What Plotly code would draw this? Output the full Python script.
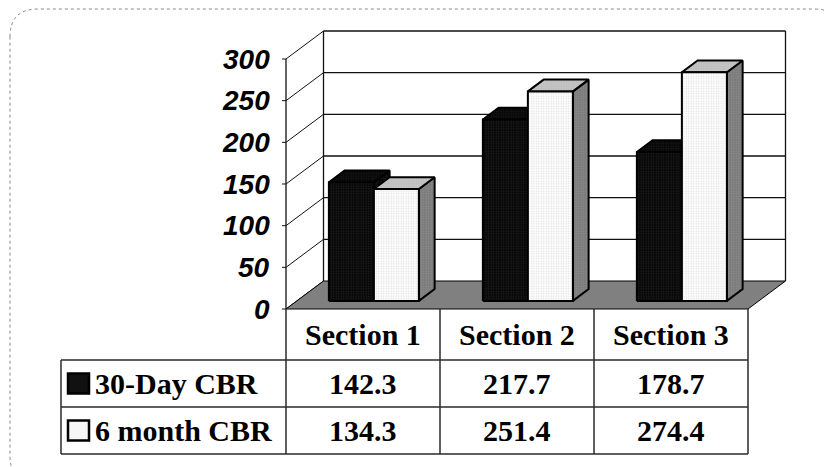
import plotly.graph_objects as go

# ---- data ----
categories = ["Section 1", "Section 2", "Section 3"]
series_names = ["30-Day CBR", "6 month CBR"]
cbr_30_day = [142.3, 217.7, 178.7]
cbr_6_month = [134.3, 251.4, 274.4]
y_ticks = [0, 50, 100, 150, 200, 250, 300]

# ---- canvas geometry ----
W, H = 824, 467
PX_PER_CAT = 154.0          # pixels per category along the front edge
PX_PER_UNIT = 250.0 / 300   # pixels per value unit
CAT0_PX = 363.0             # pixel x of category 0 centre (front edge)
ZERO_PX = 309.0             # pixel y of value 0 (front edge)

x_range = [-CAT0_PX / PX_PER_CAT, (W - CAT0_PX) / PX_PER_CAT]
y_range = [(ZERO_PX - H) / PX_PER_UNIT, ZERO_PX / PX_PER_UNIT]

# oblique depth of the floor, in axis units
DX = 37.5 / PX_PER_CAT
DY = 28.0 / PX_PER_UNIT
BAR_W = 45.0 / PX_PER_CAT   # width of one bar in category units
D_FRONT, D_BACK = 0.29, 0.71
X_LEFT, X_RIGHT = -0.5, len(categories) - 0.5
Y_MAX = y_ticks[-1]


def proj(x, v, d):
    return x + d * DX, v + d * DY


def px_x(p):
    return (p - CAT0_PX) / PX_PER_CAT


def paper_y(p):
    return 1 - p / H


fig = go.Figure()


def poly(points, fill, line_w=1.5, line_c="black", pattern=None):
    xs = [p[0] for p in points] + [points[0][0]]
    ys = [p[1] for p in points] + [points[0][1]]
    kw = dict(x=xs, y=ys, mode="lines", fill="toself", fillcolor=fill,
              line=dict(color=line_c, width=line_w), hoverinfo="skip",
              showlegend=False)
    if pattern:
        kw["fillpattern"] = pattern
    fig.add_trace(go.Scatter(**kw))


def seg(p0, p1, color="#111111", width=1.3):
    fig.add_trace(go.Scatter(x=[p0[0], p1[0]], y=[p0[1], p1[1]], mode="lines",
                             line=dict(color=color, width=width),
                             hoverinfo="skip", showlegend=False))


# back wall and side wall gridlines
for v in y_ticks:
    if v > 0:
        seg(proj(X_LEFT, v, 1), proj(X_RIGHT, v, 1))
    seg(proj(X_LEFT, v, 0), proj(X_LEFT, v, 1), width=1)
seg(proj(X_LEFT, 0, 1), proj(X_LEFT, Y_MAX, 1))
seg(proj(X_RIGHT, 0, 1), proj(X_RIGHT, Y_MAX, 1))
# front value axis with tick marks
seg((X_LEFT, 0), (X_LEFT, Y_MAX))
for v in y_ticks:
    seg((X_LEFT - 4 / PX_PER_CAT, v), (X_LEFT, v), width=1)

# floor
poly([proj(X_LEFT, 0, 0), proj(X_RIGHT, 0, 0), proj(X_RIGHT, 0, 1), proj(X_LEFT, 0, 1)],
     "#808080", line_w=1)

dark_front = dict(shape=".", bgcolor="#050505", fgcolor="#404040", size=2.5, solidity=0.3)
dark_side = dict(shape=".", bgcolor="#050505", fgcolor="#333333", size=2.5, solidity=0.3)
light_front = dict(shape=".", bgcolor="#ffffff", fgcolor="#c0c0c0", size=2.5, solidity=0.3)
light_side = dict(shape=".", bgcolor="#7a7a7a", fgcolor="#a0a0a0", size=2.5, solidity=0.3)
light_top = dict(shape=".", bgcolor="#c4c4c4", fgcolor="#a8a8a8", size=2.5, solidity=0.25)

styles = [
    dict(front=("#111111", dark_front), top=("#111111", dark_side), side=("#111111", dark_side)),
    dict(front=("#f4f4f4", light_front), top=("#c0c0c0", light_top), side=("#808080", light_side)),
]

# 3-D columns
for i in range(len(categories)):
    for s, values in enumerate([cbr_30_day, cbr_6_month]):
        v = values[i]
        xl = i - BAR_W + s * BAR_W
        xr = xl + BAR_W
        st = styles[s]
        poly([proj(xr, 0, D_FRONT), proj(xr, 0, D_BACK), proj(xr, v, D_BACK), proj(xr, v, D_FRONT)],
             st["side"][0], line_w=2, pattern=st["side"][1])
        poly([proj(xl, v, D_FRONT), proj(xr, v, D_FRONT), proj(xr, v, D_BACK), proj(xl, v, D_BACK)],
             st["top"][0], line_w=2, pattern=st["top"][1])
        poly([proj(xl, 0, D_FRONT), proj(xr, 0, D_FRONT), proj(xr, v, D_FRONT), proj(xl, v, D_FRONT)],
             st["front"][0], line_w=2, pattern=st["front"][1])

annotations = []
# value axis labels
for v in y_ticks:
    annotations.append(dict(x=X_LEFT, y=v, xref="x", yref="y", text=str(v),
                            showarrow=False, xanchor="right", yanchor="middle",
                            xshift=-14, yshift=0,
                            font=dict(family="Liberation Sans, Arial, sans-serif", size=28,
                                      color="black", weight="bold", style="italic")))

# ---- data table ----
shapes = []
TBL_LEFT = px_x(61)
row_edges = [paper_y(309), paper_y(360), paper_y(407), paper_y(454)]
line_c = "#2a2a2a"
for xv in [X_LEFT + k for k in range(len(categories) + 1)]:
    shapes.append(dict(type="line", xref="x", yref="paper", x0=xv, x1=xv,
                       y0=row_edges[0], y1=row_edges[3], line=dict(color=line_c, width=1.5)))
for yv in row_edges[1:]:
    shapes.append(dict(type="line", xref="x", yref="paper", x0=TBL_LEFT, x1=X_RIGHT,
                       y0=yv, y1=yv, line=dict(color=line_c, width=1.5)))
shapes.append(dict(type="line", xref="x", yref="paper", x0=TBL_LEFT, x1=TBL_LEFT,
                   y0=row_edges[1], y1=row_edges[3], line=dict(color=line_c, width=1.5)))

serif = dict(family="Liberation Serif, Times New Roman, serif", size=30, color="black",
             weight="bold")
for i, c in enumerate(categories):
    annotations.append(dict(x=i, y=(row_edges[0] + row_edges[1]) / 2, xref="x", yref="paper",
                            text=c, showarrow=False, xanchor="center", yanchor="middle",
                            font=serif))
swatch_fill = ["#111111", "#f6f6f6"]
for r, (name, values) in enumerate(zip(series_names, [cbr_30_day, cbr_6_month])):
    yc = (row_edges[r + 1] + row_edges[r + 2]) / 2
    half = 10.0 / H
    shapes.append(dict(type="rect", xref="x", yref="paper", x0=px_x(68), x1=px_x(89),
                       y0=yc - half, y1=yc + half, fillcolor=swatch_fill[r],
                       line=dict(color="black", width=2.5)))
    annotations.append(dict(x=px_x(93), y=yc, xref="x", yref="paper", text=name,
                            showarrow=False, xanchor="left", yanchor="middle", font=serif))
    for i, v in enumerate(values):
        annotations.append(dict(x=i, y=yc, xref="x", yref="paper", text=f"{v:.1f}",
                                showarrow=False, xanchor="center", yanchor="middle",
                                font=serif))


# rounded outer frame (runs off the right and bottom edges)
def fx(p):
    return p / W


L, R, T, B, RAD = 10, 842, 9, 484, 28
path = (f"M {fx(L)},{paper_y(T + RAD)} Q {fx(L)},{paper_y(T)} {fx(L + RAD)},{paper_y(T)} "
        f"L {fx(R - RAD)},{paper_y(T)} Q {fx(R)},{paper_y(T)} {fx(R)},{paper_y(T + RAD)} "
        f"L {fx(R)},{paper_y(B - RAD)} Q {fx(R)},{paper_y(B)} {fx(R - RAD)},{paper_y(B)} "
        f"L {fx(L + RAD)},{paper_y(B)} Q {fx(L)},{paper_y(B)} {fx(L)},{paper_y(B - RAD)} Z")
shapes.append(dict(type="path", xref="paper", yref="paper", path=path,
                   line=dict(color="#8a8a8a", width=1, dash="dot")))

fig.update_layout(
    width=W, height=H,
    margin=dict(l=0, r=0, t=0, b=0),
    paper_bgcolor="white", plot_bgcolor="white",
    xaxis=dict(range=x_range, visible=False, fixedrange=True),
    yaxis=dict(range=y_range, visible=False, fixedrange=True),
    shapes=shapes, annotations=annotations, showlegend=False,
)

fig.write_html("out.html", config={"displayModeBar": False})
